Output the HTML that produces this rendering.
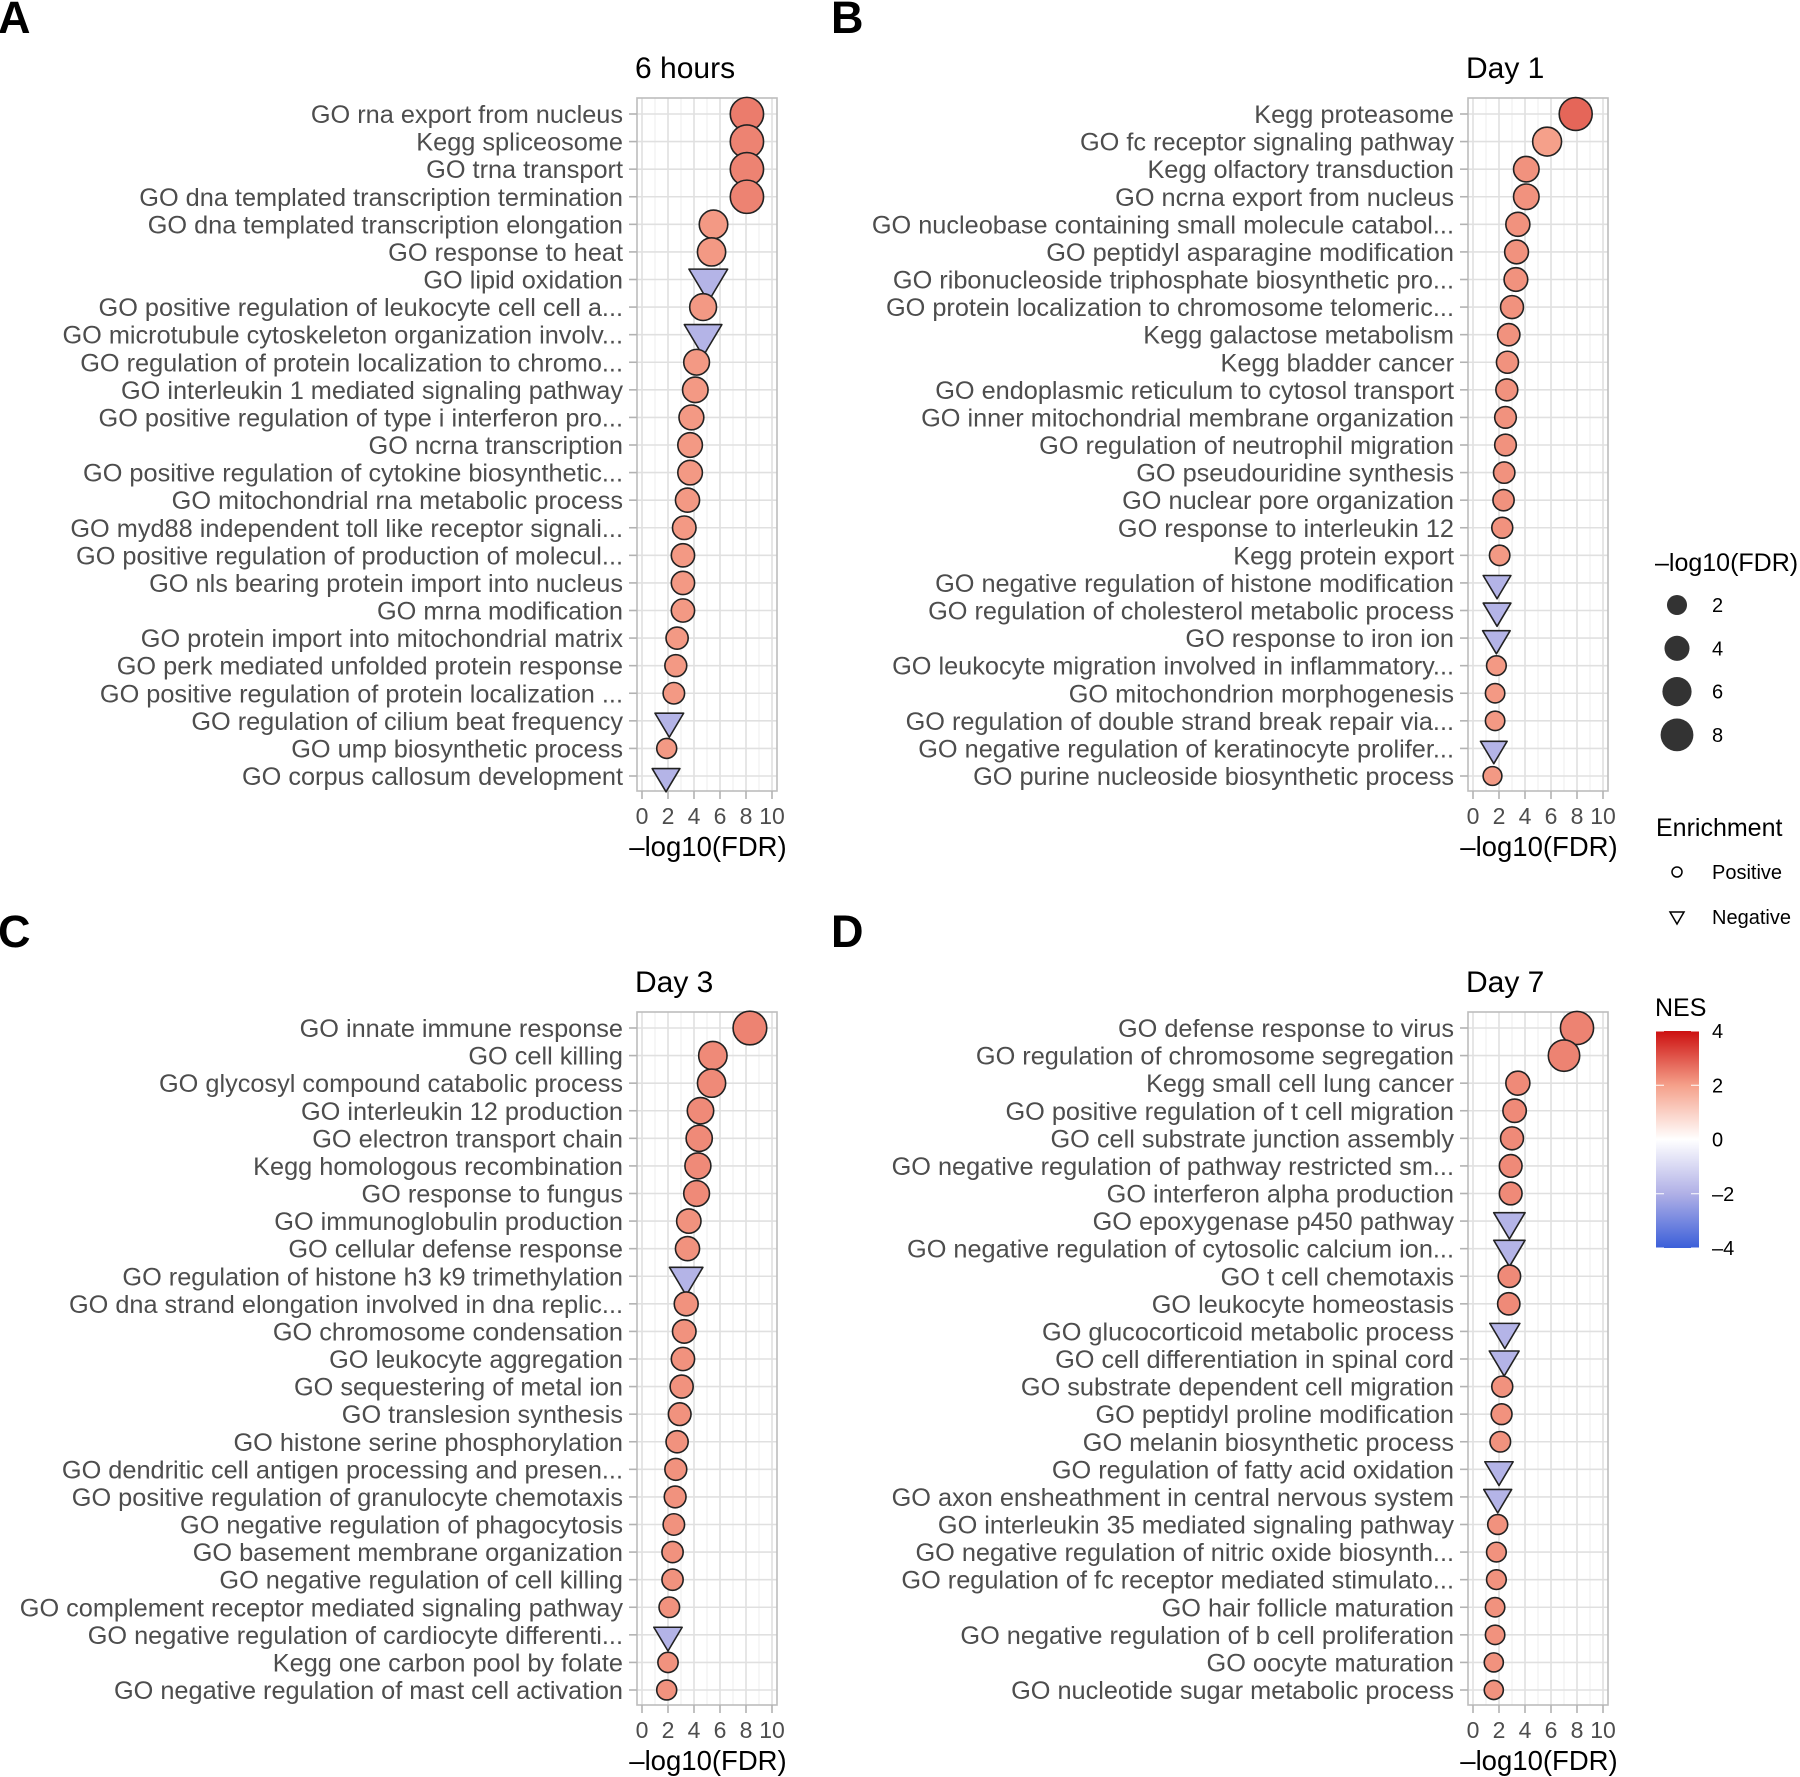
<!DOCTYPE html>
<html><head><meta charset="utf-8"><style>
html,body{margin:0;padding:0;background:#fff;}
svg{display:block;font-family:"Liberation Sans",Arial,sans-serif;}
</style></head><body>
<svg id="fig" width="1800" height="1777" viewBox="0 0 1800 1777" xmlns="http://www.w3.org/2000/svg"></svg>
<script>
// ---- Panel A: 6 hours ----
const labelsA = ["GO rna export from nucleus","Kegg spliceosome","GO trna transport","GO dna templated transcription termination","GO dna templated transcription elongation","GO response to heat","GO lipid oxidation","GO positive regulation of leukocyte cell cell a...","GO microtubule cytoskeleton organization involv...","GO regulation of protein localization to chromo...","GO interleukin 1 mediated signaling pathway","GO positive regulation of type i interferon pro...","GO ncrna transcription","GO positive regulation of cytokine biosynthetic...","GO mitochondrial rna metabolic process","GO myd88 independent toll like receptor signali...","GO positive regulation of production of molecul...","GO nls bearing protein import into nucleus","GO mrna modification","GO protein import into mitochondrial matrix","GO perk mediated unfolded protein response","GO positive regulation of protein localization ...","GO regulation of cilium beat frequency","GO ump biosynthetic process","GO corpus callosum development"];
const fdrA = [8.07,8.07,8.07,8.07,5.5,5.35,5.1,4.7,4.7,4.2,4.1,3.8,3.7,3.7,3.5,3.25,3.15,3.15,3.15,2.7,2.6,2.45,2.1,1.9,1.85];
const nesA = [2.5,2.4,2.4,2.4,2.1,2.1,-1.9,2.1,-1.9,2.1,2.1,2.1,2.1,2.1,2.1,2.1,2.1,2.1,2.1,2.1,2.1,2.1,-1.9,2.1,-1.9];
// ---- Panel B: Day 1 ----
const labelsB = ["Kegg proteasome","GO fc receptor signaling pathway","Kegg olfactory transduction","GO ncrna export from nucleus","GO nucleobase containing small molecule catabol...","GO peptidyl asparagine modification","GO ribonucleoside triphosphate biosynthetic pro...","GO protein localization to chromosome telomeric...","Kegg galactose metabolism","Kegg bladder cancer","GO endoplasmic reticulum to cytosol transport","GO inner mitochondrial membrane organization","GO regulation of neutrophil migration","GO pseudouridine synthesis","GO nuclear pore organization","GO response to interleukin 12","Kegg protein export","GO negative regulation of histone modification","GO regulation of cholesterol metabolic process","GO response to iron ion","GO leukocyte migration involved in inflammatory...","GO mitochondrion morphogenesis","GO regulation of double strand break repair via...","GO negative regulation of keratinocyte prolifer...","GO purine nucleoside biosynthetic process"];
const fdrB = [7.9,5.7,4.1,4.1,3.45,3.35,3.3,3.0,2.75,2.65,2.6,2.5,2.5,2.4,2.35,2.25,2.05,1.85,1.85,1.8,1.8,1.7,1.7,1.6,1.5];
const nesB = [2.8,2.0,2.2,2.2,2.2,2.2,2.2,2.2,2.2,2.2,2.2,2.2,2.2,2.2,2.2,2.2,2.1,-1.9,-1.9,-1.9,2.1,2.1,2.1,-1.9,2.1];
// ---- Panel C: Day 3 ----
const labelsC = ["GO innate immune response","GO cell killing","GO glycosyl compound catabolic process","GO interleukin 12 production","GO electron transport chain","Kegg homologous recombination","GO response to fungus","GO immunoglobulin production","GO cellular defense response","GO regulation of histone h3 k9 trimethylation","GO dna strand elongation involved in dna replic...","GO chromosome condensation","GO leukocyte aggregation","GO sequestering of metal ion","GO translesion synthesis","GO histone serine phosphorylation","GO dendritic cell antigen processing and presen...","GO positive regulation of granulocyte chemotaxis","GO negative regulation of phagocytosis","GO basement membrane organization","GO negative regulation of cell killing","GO complement receptor mediated signaling pathway","GO negative regulation of cardiocyte differenti...","Kegg one carbon pool by folate","GO negative regulation of mast cell activation"];
const fdrC = [8.3,5.45,5.35,4.5,4.4,4.3,4.2,3.6,3.5,3.4,3.4,3.25,3.15,3.05,2.9,2.7,2.6,2.55,2.45,2.35,2.35,2.1,2.0,2.0,1.9];
const nesC = [2.4,2.3,2.3,2.3,2.3,2.3,2.3,2.2,2.2,-1.9,2.2,2.2,2.2,2.2,2.2,2.2,2.2,2.2,2.2,2.2,2.2,2.2,-1.9,2.2,2.2];
// ---- Panel D: Day 7 ----
const labelsD = ["GO defense response to virus","GO regulation of chromosome segregation","Kegg small cell lung cancer","GO positive regulation of t cell migration","GO cell substrate junction assembly","GO negative regulation of pathway restricted sm...","GO interferon alpha production","GO epoxygenase p450 pathway","GO negative regulation of cytosolic calcium ion...","GO t cell chemotaxis","GO leukocyte homeostasis","GO glucocorticoid metabolic process","GO cell differentiation in spinal cord","GO substrate dependent cell migration","GO peptidyl proline modification","GO melanin biosynthetic process","GO regulation of fatty acid oxidation","GO axon ensheathment in central nervous system","GO interleukin 35 mediated signaling pathway","GO negative regulation of nitric oxide biosynth...","GO regulation of fc receptor mediated stimulato...","GO hair follicle maturation","GO negative regulation of b cell proliferation","GO oocyte maturation","GO nucleotide sugar metabolic process"];
const fdrD = [8.0,7.0,3.45,3.2,3.0,2.9,2.9,2.8,2.8,2.8,2.75,2.45,2.4,2.25,2.2,2.1,2.0,1.9,1.9,1.8,1.8,1.7,1.7,1.6,1.6];
const nesD = [2.4,2.4,2.3,2.3,2.3,2.3,2.3,-1.9,-1.9,2.3,2.3,-1.9,-1.9,2.2,2.2,2.2,-1.9,-1.9,2.2,2.2,2.2,2.2,2.2,2.2,2.2];
const xTicks = [0,2,4,6,8,10];
const sizeLegendVals = [2,4,6,8];
const nesTicks = [4,2,0,-2,-4];

const NS="http://www.w3.org/2000/svg";
const svg=document.getElementById('fig');
function mk(tag,attrs,parent){const e=document.createElementNS(NS,tag);for(const k in attrs)e.setAttribute(k,attrs[k]);(parent||svg).appendChild(e);return e;}
function rad(v){return Math.sqrt(45+28.7*v);}
const stops=[[-4,[59,95,217]],[-2,[176,176,230]],[0,[255,255,255]],[2,[245,160,138]],[4,[204,16,16]]];
function nesColor(n){n=Math.max(-4,Math.min(4,n));for(let i=0;i<stops.length-1;i++){const a=stops[i],b=stops[i+1];if(n<=b[0]){const t=(n-a[0])/(b[0]-a[0]);const c=a[1].map((v,j)=>Math.round(v+(b[1][j]-v)*t));return `rgb(${c[0]},${c[1]},${c[2]})`;}}return 'rgb(204,16,16)';}

function panel(key,letter,title,labels,fdr,nes,ox,oy){
  const g=mk('g',{});
  
  
  const L=637+ox,R=777+ox,T=98+oy,B=791+oy;
  const xs=v=>642+ox+v*13;
  const ys=i=>114+oy+i*(662/24);
  const lt=mk('text',{x:(ox?833:0)-2,y:33+oy,'font-size':45,'font-weight':'bold',fill:'#000'},g);
  lt.textContent=letter;
  
  
  const tt=mk('text',{x:L-2,y:78+oy,'font-size':30,fill:'#000'},g);
  tt.textContent=title;
  
  
  mk('rect',{x:L,y:T,width:R-L,height:B-T,fill:'#fff'},g);
  for(let v=1;v<10;v+=2){mk('line',{x1:xs(v),x2:xs(v),y1:T,y2:B,stroke:'#f0f0f0','stroke-width':1.2},g);}
  xTicks.forEach(v=>{mk('line',{x1:xs(v),x2:xs(v),y1:T,y2:B,stroke:'#e0e0e0','stroke-width':1.6},g);});
  labels.forEach((s,i)=>{mk('line',{x1:L,x2:R,y1:ys(i),y2:ys(i),stroke:'#e0e0e0','stroke-width':1.6},g);});
  mk('rect',{x:L,y:T,width:R-L,height:B-T,fill:'none',stroke:'#bdbdbd','stroke-width':1.6},g);
  labels.forEach((s,i)=>{
    mk('line',{x1:L-8,x2:L,y1:ys(i),y2:ys(i),stroke:'#b3b3b3','stroke-width':1.6},g);
    const t=mk('text',{x:L-14,y:ys(i)+9,'font-size':25.3,fill:'#4d4d4d','text-anchor':'end'},g);
    t.textContent=s;
    
    
  });
  xTicks.forEach(v=>{
    mk('line',{x1:xs(v),x2:xs(v),y1:B,y2:B+8,stroke:'#b3b3b3','stroke-width':1.6},g);
    const t=mk('text',{x:xs(v),y:B+33,'font-size':23,fill:'#4d4d4d','text-anchor':'middle'},g);
    t.textContent=v;
    
    
  });
  const at=mk('text',{x:(L+R)/2+1,y:B+65,'font-size':27.5,fill:'#000','text-anchor':'middle'},g);
  at.textContent='\u2013log10(FDR)';
  
  
  labels.forEach((s,i)=>{
    const cx=xs(fdr[i]),cy=ys(i),r=rad(fdr[i]),col=nesColor(nes[i]);
    let m;
    if(nes[i]<0){
      m=mk('polygon',{points:`${cx-1.4*r},${cy-0.75*r} ${cx+1.4*r},${cy-0.75*r} ${cx},${cy+1.6*r}`,fill:col,stroke:'#222','stroke-width':1.6,'stroke-linejoin':'round'},g);
      
    } else {
      m=mk('circle',{cx:cx,cy:cy,r:r,fill:col,stroke:'#222','stroke-width':1.6},g);
      
    }
    
  });
}
panel('a','A','6 hours',labelsA,fdrA,nesA,0,0);
panel('b','B','Day 1',labelsB,fdrB,nesB,831,0);
panel('c','C','Day 3',labelsC,fdrC,nesC,0,914);
panel('d','D','Day 7',labelsD,fdrD,nesD,831,914);

// Legends
const lg=mk('g',{});


let t=mk('text',{x:1655,y:571,'font-size':25,fill:'#000'},lg);t.textContent='\u2013log10(FDR)';


sizeLegendVals.forEach((v,i)=>{
  const cy=605+i*43.3;
  const c=mk('circle',{cx:1677,cy:cy,r:rad(v)*0.99,fill:'#333'},lg);
  
  
  const tx=mk('text',{x:1712,y:cy+7,'font-size':20,fill:'#000'},lg);tx.textContent=v;
  
  
});
t=mk('text',{x:1656,y:836,'font-size':25,fill:'#000'},lg);t.textContent='Enrichment';


let k=mk('circle',{cx:1677,cy:872,r:5,fill:'none',stroke:'#000','stroke-width':1.5},lg);


t=mk('text',{x:1712,y:879,'font-size':20,fill:'#000'},lg);t.textContent='Positive';


k=mk('polygon',{points:'1670,912 1684,912 1677,924',fill:'none',stroke:'#000','stroke-width':1.5},lg);


t=mk('text',{x:1712,y:924,'font-size':20,fill:'#000'},lg);t.textContent='Negative';


t=mk('text',{x:1655,y:1016,'font-size':25,fill:'#000'},lg);t.textContent='NES';


const defs=mk('defs',{},svg);
const grad=mk('linearGradient',{id:'nesg',x1:0,y1:0,x2:0,y2:1},defs);
[4,3,2,1,0,-1,-2,-3,-4].forEach((v,i)=>mk('stop',{offset:(i/8),'stop-color':nesColor(v)},grad));
const cb=mk('rect',{x:1656,y:1031,width:43,height:217,fill:'url(#nesg)'},lg);


nesTicks.forEach(v=>{
  const y=1031+(4-v)/8*217;
  mk('line',{x1:1656,x2:1664,y1:y,y2:y,stroke:'#fff','stroke-width':1},lg);
  mk('line',{x1:1691,x2:1699,y1:y,y2:y,stroke:'#fff','stroke-width':1},lg);
  const tx=mk('text',{x:1712,y:y+7,'font-size':20,fill:'#000'},lg);tx.textContent=(v<0?'\u2013'+(-v):v);
  
  
});
</script>
</body></html>
